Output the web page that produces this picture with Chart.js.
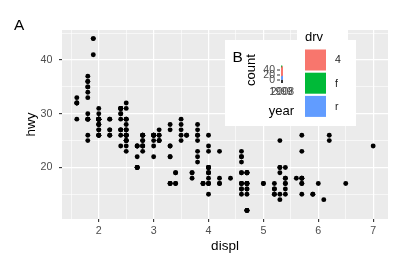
<!DOCTYPE html>
<html>
<head>
<meta charset="utf-8">
<script src="https://cdn.jsdelivr.net/npm/chart.js@4.4.1/dist/chart.umd.min.js"></script>
<style>
html, body { margin: 0; padding: 0; background: #fff; }
#wrap { position: relative; width: 403px; height: 268px; }
#main { position: absolute; left: 0; top: 0; }
#mini { position: absolute; left: 281px; top: 60px; }
</style>
</head>
<body>
<div id="wrap">
  <canvas id="main" width="403" height="268"></canvas>
  <canvas id="mini" width="2" height="20"></canvas>
</div>
<script>
// mpg: engine displacement vs highway mileage
const displ = [
  1.8,1.8,2.0,2.0,2.8,2.8,3.1,1.8,1.8,2.0,2.0,2.8,2.8,3.1,3.1,2.8,3.1,4.2,
  5.3,5.3,5.3,5.7,6.0,5.7,5.7,6.2,6.2,7.0,5.3,5.3,5.7,6.5,2.4,2.4,3.1,3.5,3.6,
  2.4,3.0,3.3,3.3,3.3,3.3,3.3,3.8,3.8,3.8,4.0,3.7,3.7,3.9,3.9,4.7,4.7,4.7,5.2,5.2,
  3.9,4.7,4.7,4.7,5.2,5.7,5.9,4.7,4.7,4.7,4.7,4.7,4.7,5.2,5.2,5.7,5.9,
  4.6,4.6,5.4,4.0,4.0,4.0,4.0,4.6,5.0,4.2,4.2,4.6,4.6,4.6,5.4,5.4,
  3.8,3.8,4.0,4.0,4.6,4.6,4.6,4.6,5.4,
  1.6,1.6,1.6,1.6,1.6,1.8,1.8,1.8,2.0,
  2.4,2.4,2.4,2.4,2.5,2.5,3.3,2.0,2.0,2.0,2.0,2.7,2.7,2.7,
  3.0,3.7,4.0,4.7,4.7,4.7,5.7,6.1,
  4.0,4.2,4.4,4.6, 5.4,5.4,5.4, 4.0,4.0,4.6,5.0,
  2.4,2.4,2.5,2.5,3.5,3.5,3.0,3.0,3.5,3.3,3.3,4.0,5.6,
  3.1,3.8,3.8,3.8,5.3,
  2.5,2.5,2.5,2.5,2.5,2.5,2.2,2.2,2.5,2.5,2.5,2.5,2.5,2.5,
  2.7,2.7,3.4,3.4,4.0,4.7,2.2,2.2,2.4,2.4,3.0,3.0,3.5,2.2,2.2,2.4,2.4,3.0,3.0,3.3,
  1.8,1.8,1.8,1.8,1.8,4.7,5.7,2.7,2.7,2.7,3.4,3.4,4.0,4.0,
  2.0,2.0,2.0,2.0,2.8,1.9,2.0,2.0,2.0,2.0,2.5,2.5,2.8,2.8,
  1.9,1.9,2.0,2.0,2.5,2.5,1.8,1.8,2.0,2.0,2.8,2.8,3.6
];
const hwy = [
  29,29,31,30,26,26,27,26,25,28,27,25,25,25,25,24,25,23,
  20,15,20,17,17,26,23,26,25,24,19,14,15,17,27,30,26,29,26,
  24,24,22,22,24,24,17,22,21,23,23,19,18,17,17,19,19,12,17,15,
  17,17,12,17,16,18,15,16,12,17,17,16,12,15,16,17,15,
  17,17,18,17,19,17,19,19,17,17,17,16,16,17,15,17,
  26,25,26,24,21,22,23,22,20,
  33,32,32,29,32,34,36,36,29,
  26,27,30,31,26,26,28,26,29,28,27,24,24,24,
  22,19,20,17,19,19,18,14,
  15,18,18,15, 17,16,18, 17,19,19,17,
  29,27,31,32,27,26,26,25,25,17,17,20,18,
  26,26,27,28,25,
  25,24,27,25,26,23,26,26,26,26,25,27,25,27,
  20,20,19,17,20,19,29,27,31,31,26,26,28,27,29,31,31,26,26,27,
  30,33,35,37,35,15,18,20,20,22,17,19,18,20,
  29,26,29,29,24,44,29,26,29,29,29,29,23,24,
  44,41,29,26,28,29,29,29,28,29,26,26,26
];
const xTicks = [1.5, 2, 2.5, 3, 3.5, 4, 4.5, 5, 5.5, 6, 6.5, 7];
const yTicks = [15, 20, 25, 30, 35, 40, 45];

// inset B: cars per year, split by drive train
const years = ['1999', '2008'];
const drvLevels = ['4', 'f', 'r'];
const drvColors = ['#F8766D', '#00BA38', '#619CFF'];
const countByDrv = [[49, 54], [57, 49], [11, 14]];
const countTicks = ['0', '20', '40'];

const FONT = "'Liberation Sans', Arial, sans-serif";
const isMajor = v => Number.isInteger(v) && v % (v < 10 ? 1 : 10) === 0;

const panelBg = {
  id: 'panelBg',
  beforeDraw(chart) {
    const { ctx, chartArea: a } = chart;
    ctx.save();
    ctx.fillStyle = '#EBEBEB';
    ctx.fillRect(a.left, a.top, a.right - a.left, a.bottom - a.top);
    ctx.restore();
  }
};

const overlay = {
  id: 'overlay',
  afterDraw(chart) {
    const ctx = chart.ctx;
    ctx.save();
    // tag A
    ctx.fillStyle = '#000';
    ctx.font = '15.4px ' + FONT;
    ctx.textAlign = 'left';
    ctx.textBaseline = 'alphabetic';
    ctx.fillText('A', 14, 29.5);

    // inset boxes
    ctx.fillStyle = '#fff';
    ctx.fillRect(225, 40, 131, 86);
    ctx.fillRect(297, 29, 51, 12);

    ctx.fillStyle = '#000';
    ctx.fillText('B', 232.5, 61.5);

    // count title
    ctx.font = '13px ' + FONT;
    ctx.save();
    ctx.translate(255, 70);
    ctx.rotate(-Math.PI / 2);
    ctx.textAlign = 'center';
    ctx.fillText('count', 0, 0);
    ctx.restore();

    // mini axis labels
    ctx.fillStyle = '#4D4D4D';
    ctx.font = '10.5px ' + FONT;
    ctx.textAlign = 'right';
    ctx.textBaseline = 'middle';
    const tickY = [80, 75, 70];
    countTicks.forEach((t, i) => ctx.fillText(t, 275, tickY[i]));
    ctx.strokeStyle = '#333';
    ctx.lineWidth = 1;
    tickY.forEach(y => { ctx.beginPath(); ctx.moveTo(277, y); ctx.lineTo(280, y); ctx.stroke(); });
    ctx.beginPath(); ctx.moveTo(281.5, 80); ctx.lineTo(281.5, 83); ctx.moveTo(282.5, 80); ctx.lineTo(282.5, 83); ctx.stroke();
    ctx.textAlign = 'center';
    ctx.textBaseline = 'top';
    ctx.fillText(years[0], 281, 87);
    ctx.fillText(years[1], 282.5, 87);

    ctx.fillStyle = '#000';
    ctx.font = '13px ' + FONT;
    ctx.textBaseline = 'alphabetic';
    ctx.fillText('year', 281.5, 114.5);

    // legend
    ctx.textAlign = 'left';
    ctx.fillText('drv', 305, 40.5);
    drvLevels.forEach((lv, i) => {
      const y = 49.5 + i * 23.2;
      ctx.fillStyle = drvColors[i];
      ctx.fillRect(305, y, 21, 21);
      ctx.fillStyle = '#1A1A1A';
      ctx.font = '10.5px ' + FONT;
      ctx.textBaseline = 'middle';
      ctx.fillText(lv, 335, y + 11);
    });
    ctx.restore();
  }
};

const gridOpts = {
  color: '#fff',
  lineWidth: c => (c.tick && isMajor(c.tick.value) ? 1.2 : 0.6),
  tickLength: 3,
  tickWidth: 1.1,
  tickColor: c => (c.tick && isMajor(c.tick.value) ? '#333' : 'rgba(0,0,0,0)')
};

new Chart(document.getElementById('main'), {
  type: 'scatter',
  data: {
    datasets: [{
      data: displ.map((d, i) => ({ x: d, y: hwy[i] })),
      backgroundColor: '#000',
      borderWidth: 0,
      pointRadius: 2.45
    }]
  },
  options: {
    responsive: false,
    animation: false,
    devicePixelRatio: 1,
    layout: { padding: { top: 30, right: 15, left: 0, bottom: 0 } },
    plugins: { legend: { display: false }, tooltip: { enabled: false } },
    scales: {
      x: {
        type: 'linear', min: 1.33, max: 7.27,
        afterBuildTicks: s => { s.ticks = xTicks.map(v => ({ value: v })); },
        afterFit: s => { s.height = 49; },
        border: { display: false },
        grid: gridOpts,
        ticks: {
          color: '#4D4D4D', font: { family: FONT, size: 10.7 }, padding: 3,
          maxRotation: 0, autoSkip: false,
          callback: v => (Number.isInteger(v) ? String(v) : '')
        },
        title: { display: true, text: 'displ', color: '#000', font: { family: FONT, size: 13.5 }, padding: { top: 0, bottom: 14 } }
      },
      y: {
        type: 'linear', min: 10.4, max: 45.6,
        afterBuildTicks: s => { s.ticks = yTicks.map(v => ({ value: v })); },
        afterFit: s => { s.width = 62; },
        border: { display: false },
        grid: gridOpts,
        ticks: {
          color: '#4D4D4D', font: { family: FONT, size: 10.7 }, padding: 6.5,
          autoSkip: false,
          callback: v => (v % 10 === 0 ? String(v) : '')
        },
        title: { display: true, text: 'hwy', color: '#000', font: { family: FONT, size: 13.5 }, padding: { top: 23, bottom: 0 } }
      }
    }
  },
  plugins: [panelBg, overlay]
});

// tiny bar chart inside inset B
new Chart(document.getElementById('mini'), {
  type: 'bar',
  data: {
    labels: years,
    datasets: [2, 0, 1].map(k => ({
      label: drvLevels[k],
      data: countByDrv[k],
      backgroundColor: drvColors[k],
      borderWidth: 0,
      grouped: false,
      barPercentage: 1,
      categoryPercentage: 1
    }))
  },
  options: {
    responsive: false,
    animation: false,
    devicePixelRatio: 1,
    layout: { padding: 0 },
    plugins: { legend: { display: false }, tooltip: { enabled: false } },
    scales: {
      x: { display: false },
      y: { display: false, min: -2, max: 81 }
    }
  }
});
</script>
</body>
</html>
